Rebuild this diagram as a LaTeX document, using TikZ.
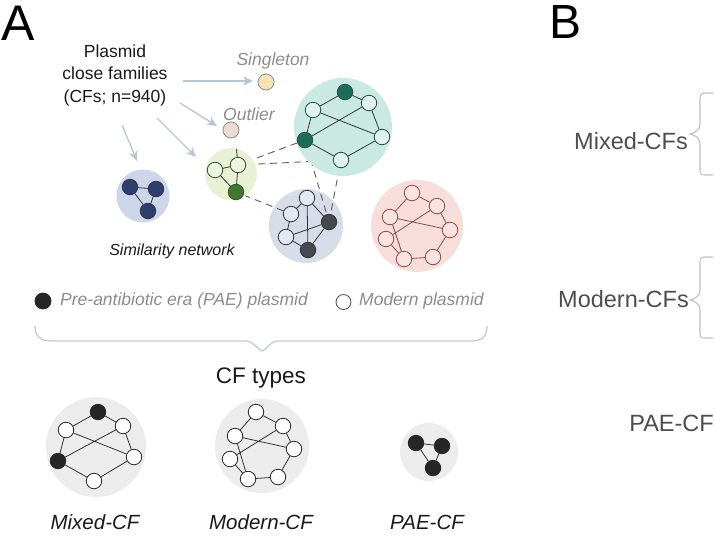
\documentclass[tikz,border=0pt]{standalone}
\usepackage{fontspec}
\setmainfont{Liberation Sans}
\usetikzlibrary{arrows.meta}
\pgfdeclarelayer{back}
\pgfdeclarelayer{mid}
\pgfsetlayers{back,mid,main}
\definecolor{tealbg}{HTML}{CBE9E3}
\definecolor{tealdk}{HTML}{1E6B59}
\definecolor{tealwt}{HTML}{E1F2EE}
\definecolor{tealln}{HTML}{1E4F44}
\definecolor{grnbg}{HTML}{E8F0D5}
\definecolor{grndk}{HTML}{3F7A2C}
\definecolor{grnwt}{HTML}{EEF5E2}
\definecolor{grnln}{HTML}{34502A}
\definecolor{gbbg}{HTML}{D7DDE8}
\definecolor{gbdk}{HTML}{47494E}
\definecolor{gbwt}{HTML}{E4E9F1}
\definecolor{pkbg}{HTML}{F8DEDB}
\definecolor{pkln}{HTML}{8B4A4A}
\definecolor{pkwt}{HTML}{F9E4E1}
\definecolor{blbg}{HTML}{CDD5E8}
\definecolor{bldk}{HTML}{2F3E6B}
\definecolor{sgfill}{HTML}{F5E3B2}
\definecolor{olfill}{HTML}{ECDCD0}
\definecolor{arrc}{HTML}{B8C5D6}
\definecolor{grytxt}{HTML}{8C8C8C}
\definecolor{btxt}{HTML}{4D4D4D}
\definecolor{cfbg}{HTML}{ECECEC}
\definecolor{brc}{HTML}{C5CAD3}
\begin{document}
\begin{tikzpicture}[x=1pt,y=-1pt,
  pn/.style={circle,inner sep=0pt,minimum size=15.5pt,line width=0.8pt},
  tw/.style={pn,draw=tealln,fill=tealwt},
  td/.style={pn,draw=tealln,fill=tealdk},
  gw/.style={pn,draw=grnln,fill=grnwt},
  gd/.style={pn,draw=grnln,fill=grndk},
  bw/.style={pn,draw=black!80,fill=gbwt},
  bd/.style={pn,draw=black!80,fill=gbdk},
  kw/.style={pn,draw=pkln,fill=pkwt},
  ud/.style={pn,draw=bldk!80!black,fill=bldk},
  cw/.style={pn,draw=black!85,fill=white},
  cd/.style={pn,draw=black!85,fill=black!85},
  edge/.style={line width=0.8pt,draw=black!80},
  pedge/.style={line width=0.8pt,draw=pkln},
  dsh/.style={line width=0.9pt,draw=black!65,dash pattern=on 7pt off 5pt},
  arr/.style={line width=1.3pt,draw=arrc,-{Stealth[length=10pt,width=9pt,fill=arrc]}},
  bg/.style={circle,inner sep=0pt,draw=none},
  lbl/.style={inner sep=0pt},
  brace/.style={line width=1.3pt,draw=brc}
]
\useasboundingbox (0,0) rectangle (715,550);

% ---------- headings ----------
\node[lbl,font=\fontsize{50}{50}\selectfont] (A) at (18,23) {A};
\node[lbl,font=\fontsize{48}{48}\selectfont] (B) at (566,22) {B};

% ---------- intro text ----------
\node[lbl,align=center,font=\fontsize{17.5}{22.5}\selectfont,text=black!90] (cf) at (115,75)
  {Plasmid\\close families\\(CFs; n=940)};
\node[lbl,font=\fontsize{17.5}{20}\itshape\selectfont,text=grytxt] (tsing) at (273,61) {Singleton};
\node[lbl,font=\fontsize{17.5}{20}\itshape\selectfont,text=grytxt] (tout) at (249,114) {Outlier};
\node[lbl,font=\fontsize{16}{20}\itshape\selectfont,text=black!90] (tsim) at (172,251) {Similarity network};

% ---------- singleton & outlier ----------
\node[pn,minimum size=16pt,draw=black!45,fill=sgfill] (sing) at (266,82) {};
\node[pn,minimum size=16pt,draw=black!45,fill=olfill] (outl) at (231,130) {};

% ---------- arrows ----------
\coordinate (s1) at (183,81);  \coordinate (e1) at (253,81);
\coordinate (s2) at (180,103); \coordinate (e2) at (217,126);
\coordinate (s3) at (157,118); \coordinate (e3) at (196,157);
\coordinate (s4) at (122,125); \coordinate (e4) at (137,161);
\draw[arr] (s1) -- (e1);
\draw[arr] (s2) -- (e2);
\draw[arr] (s3) -- (e3);
\draw[arr] (s4) -- (e4);

% ---------- teal cluster ----------
\node[tw] (t1) at (313,110) {};
\node[td] (t2) at (345,92) {};
\node[tw] (t3) at (369,103) {};
\node[td] (t4) at (305,140) {};
\node[tw] (t5) at (382,137) {};
\node[tw] (t6) at (341,160) {};
\draw[edge] (t2)--(t1) (t2)--(t3) (t1)--(t4) (t1)--(t5) (t3)--(t4) (t3)--(t5) (t4)--(t6) (t6)--(t5);

% ---------- green cluster ----------
\node[gw] (g1) at (215,170) {};
\node[gw] (g2) at (238,165) {};
\node[gd] (g3) at (236,192) {};
\coordinate (gcut) at (236.5,149);
\draw[edge] (g1)--(g2) (g1)--(g3) (g2)--(g3) (g2)--(gcut);

% ---------- grey-blue cluster ----------
\node[bw] (b1) at (307,198) {};
\node[bw] (b2) at (291,214) {};
\node[bd] (b3) at (329,222) {};
\node[bw] (b4) at (286,237) {};
\node[bd] (b5) at (308,250) {};
\draw[edge] (b1)--(b2) (b1)--(b3) (b1)--(b5) (b2)--(b4) (b4)--(b3) (b4)--(b5) (b5)--(b3);

% ---------- blue cluster ----------
\node[ud] (u1) at (130,187) {};
\node[ud] (u2) at (156,189) {};
\node[ud] (u3) at (148,211) {};
\draw[edge] (u1)--(u2) (u1)--(u3) (u2)--(u3);

% ---------- pink cluster ----------
\node[kw] (p1) at (412,193) {};
\node[kw] (p2) at (437,206) {};
\node[kw] (p3) at (390,217) {};
\node[kw] (p4) at (450,230) {};
\node[kw] (p5) at (386,239) {};
\node[kw] (p6) at (404,259) {};
\node[kw] (p7) at (433,257) {};
\draw[pedge] (p1)--(p3) (p1)--(p2) (p3)--(p4) (p3)--(p6) (p2)--(p5) (p2)--(p4) (p5)--(p6) (p6)--(p7) (p7)--(p4);

% ---------- backgrounds & dashed links ----------
\begin{pgfonlayer}{back}
  \node[bg,fill=gbbg,minimum size=74pt] (cgb) at (306,226) {};
  \node[bg,fill=pkbg,minimum size=92pt] (cpk) at (417,226) {};
  \node[bg,fill=blbg,minimum size=53pt] (cbl) at (143,196) {};
  \node[bg,fill=cfbg,minimum size=100pt] (cmx) at (96,447) {};
  \node[bg,fill=cfbg,minimum size=94pt] (cmd) at (262,446) {};
  \node[bg,fill=cfbg,minimum size=58pt] (cpa) at (429,452) {};
\end{pgfonlayer}
\begin{pgfonlayer}{mid}
  \draw[dsh] (g3)--(b2);
  \draw[dsh] (g2)--(t4);
  \draw[dsh] (g2)--(t6);
  \draw[dsh] (t4)--(b3);
  \draw[dsh] (t6)--(b3);
  \node[bg,fill=tealbg,minimum size=98pt] (cte) at (343,127) {};
  \node[bg,fill=grnbg,minimum size=52pt] (cgr) at (231,174) {};
\end{pgfonlayer}

% ---------- legend ----------
\node[pn,minimum size=16pt,draw=black!85,fill=black!85] (ldot) at (43,301) {};
\node[lbl,anchor=west,font=\fontsize{17.5}{20}\itshape\selectfont,text=grytxt] (ltxt1) at (60,301) {Pre-antibiotic era (PAE) plasmid};
\node[pn,minimum size=15pt,draw=black!70,fill=white] (lcir) at (343.5,302) {};
\node[lbl,anchor=west,font=\fontsize{17.5}{20}\itshape\selectfont,text=grytxt] (ltxt2) at (359,301) {Modern plasmid};

% ---------- brace ----------
\draw[brace] (35,326) .. controls (35,336) and (40,341) .. (52,341) -- (247,341)
  .. controls (253,341) and (258,350) .. (262,351) .. controls (266,350) and (271,341) .. (277,341)
  -- (471,341) .. controls (483,341) and (487,336) .. (487,326);
\node[lbl,font=\fontsize{22.5}{24}\selectfont,text=black!90] (cft) at (261,378) {CF types};

% ---------- Mixed-CF ----------
\node[cw] (x1) at (66,430) {};
\node[cd] (x2) at (98,412) {};
\node[cw] (x3) at (123,426) {};
\node[cd] (x4) at (58,461) {};
\node[cw] (x5) at (134,457) {};
\node[cw] (x6) at (94,481) {};
\draw[edge] (x2)--(x1) (x2)--(x3) (x1)--(x4) (x1)--(x5) (x3)--(x4) (x3)--(x5) (x4)--(x6) (x6)--(x5);

% ---------- Modern-CF ----------
\node[cw] (m1) at (256,412) {};
\node[cw] (m2) at (283,426) {};
\node[cw] (m3) at (235,436) {};
\node[cw] (m4) at (294,449) {};
\node[cw] (m5) at (230,459) {};
\node[cw] (m6) at (248,479) {};
\node[cw] (m7) at (278,477) {};
\draw[edge] (m1)--(m3) (m1)--(m2) (m3)--(m4) (m3)--(m6) (m2)--(m5) (m2)--(m4) (m5)--(m6) (m6)--(m7) (m7)--(m4);

% ---------- PAE-CF ----------
\node[cd] (a1) at (416,443) {};
\node[cd] (a2) at (442,446) {};
\node[cd] (a3) at (433,468) {};
\draw[edge] (a1)--(a2) (a1)--(a3) (a2)--(a3);

\node[lbl,font=\fontsize{20.5}{22}\itshape\selectfont,text=black!90] (lmx) at (95,522) {Mixed-CF};
\node[lbl,font=\fontsize{20.5}{22}\itshape\selectfont,text=black!90] (lmd) at (261,522) {Modern-CF};
\node[lbl,font=\fontsize{20.5}{22}\itshape\selectfont,text=black!90] (lpa) at (427,522) {PAE-CF};

% ---------- panel B ----------
\node[lbl,anchor=east,font=\fontsize{23.5}{25}\selectfont,text=btxt] (bmx) at (688,141) {Mixed-CFs};
\node[lbl,anchor=east,font=\fontsize{23.5}{25}\selectfont,text=btxt] (bmd) at (689,299) {Modern-CFs};
\node[lbl,anchor=east,font=\fontsize{23.5}{25}\selectfont,text=btxt] (bpa) at (714,423) {PAE-CF};
\draw[line width=1.1pt,draw=black!25] (713,93) -- (705,93) .. controls (701,93) and (700,95) .. (700,99) -- (700,124)
  .. controls (700,130) and (695,133) .. (690,134) .. controls (695,135) and (700,138) .. (700,144)
  -- (700,170) .. controls (700,174) and (701,175) .. (705,175) -- (713,175);
\draw[line width=1.1pt,draw=black!25] (713,257) -- (705,257) .. controls (701,257) and (700,259) .. (700,263) -- (700,290)
  .. controls (700,296) and (695,299) .. (690,300) .. controls (695,301) and (700,304) .. (700,310)
  -- (700,333) .. controls (700,337) and (701,338) .. (705,338) -- (713,338);
\end{tikzpicture}
\end{document}
